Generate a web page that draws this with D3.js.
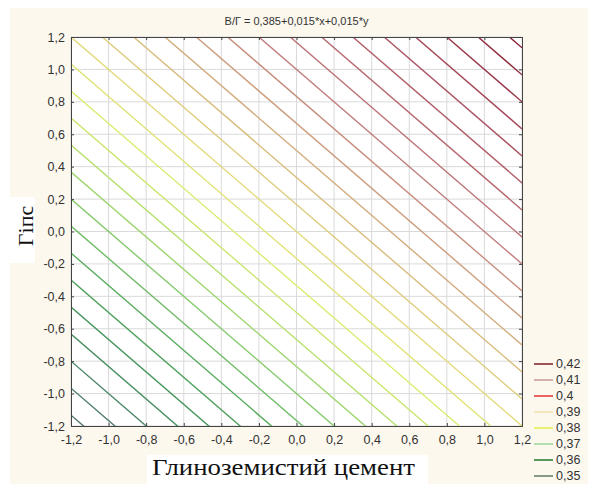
<!DOCTYPE html>
<html>
<head>
<meta charset="utf-8">
<script src="https://cdn.jsdelivr.net/npm/d3@7"></script>
<style>
  body { margin: 0; background: #fff; }
  svg { display: block; }
</style>
</head>
<body>
<div id="chart"></div>
<script>
// fitted surface from the title: z = b0 + b1*x + b2*y
const coefs = [0.385, 0.015, 0.015];
const titleText = "В/Г = 0,385+0,015*x+0,015*y";
const xLabel = "Глиноземистий цемент";
const yLabel = "Гіпс";

const tickValues = [-1.2, -1.0, -0.8, -0.6, -0.4, -0.2, 0.0, 0.2, 0.4, 0.6, 0.8, 1.0, 1.2];

// contour levels drawn in the plot
const levels = [0.35, 0.3525, 0.355, 0.3575, 0.36, 0.3625, 0.365, 0.3675, 0.37, 0.3725,
  0.375, 0.3775, 0.38, 0.3825, 0.385, 0.3875, 0.39, 0.3925, 0.395, 0.3975,
  0.4, 0.4025, 0.405, 0.4075, 0.41, 0.4125, 0.415, 0.4175, 0.42];

// colour anchors for the lines
const colorStops = [0.35, 0.355, 0.36, 0.365, 0.37, 0.375, 0.38, 0.385, 0.39, 0.395, 0.4, 0.41, 0.42];
const colorRange = ["#56726c", "#4a8666", "#45955c", "#58ac5e", "#84ca6c", "#b6e06c", "#dcec74",
  "#e4da7c", "#d8bc7c", "#cc9c7c", "#c07c7c", "#ac5464", "#861c30"];

// legend
const legendLabels = ["0,42", "0,41", "0,4", "0,39", "0,38", "0,37", "0,36", "0,35"];
const legendColors = ["#7a1f2a", "#c89898", "#e03030", "#f0e0a8", "#e4f048", "#98d898", "#207a28", "#607a68"];

const width = 596, height = 484;
const margin = { top: 37, right: 74, bottom: 58, left: 71 };

const svg = d3.select("#chart").append("svg")
  .attr("width", width)
  .attr("height", height);

// backgrounds
svg.append("rect").attr("x", 10).attr("y", 8).attr("width", 578).attr("height", 476).attr("fill", "#fcf8ee");
svg.append("rect").attr("x", 147).attr("y", 455).attr("width", 281).attr("height", 29).attr("fill", "#fff");
svg.append("rect").attr("x", 0).attr("y", 197).attr("width", 35).attr("height", 66).attr("fill", "#fff");

const x = d3.scaleLinear().domain([-1.2, 1.2]).range([margin.left, width - margin.right]);
const y = d3.scaleLinear().domain([-1.2, 1.2]).range([height - margin.bottom, margin.top]);
const color = d3.scaleLinear().domain(colorStops).range(colorRange);

const fmt = d => d3.format(".1f")(Math.abs(d) < 1e-9 ? 0 : d).replace(".", ",").replace("−", "-");

svg.append("rect")
  .attr("x", x(-1.2)).attr("y", y(1.2))
  .attr("width", x(1.2) - x(-1.2)).attr("height", y(-1.2) - y(1.2))
  .attr("fill", "#fff");

// grid
svg.append("g")
  .selectAll("line.gx")
  .data(tickValues)
  .join("line")
  .attr("x1", d => x(d)).attr("x2", d => x(d))
  .attr("y1", y(1.2)).attr("y2", y(-1.2))
  .attr("stroke", "#dadada").attr("stroke-width", 1);
svg.append("g")
  .selectAll("line.gy")
  .data(tickValues)
  .join("line")
  .attr("y1", d => y(d)).attr("y2", d => y(d))
  .attr("x1", x(-1.2)).attr("x2", x(1.2))
  .attr("stroke", "#dadada").attr("stroke-width", 1);

// contour lines
svg.append("clipPath").attr("id", "plot-clip")
  .append("rect")
  .attr("x", x(-1.2)).attr("y", y(1.2))
  .attr("width", x(1.2) - x(-1.2)).attr("height", y(-1.2) - y(1.2));

const line = d3.line().x(d => x(d[0])).y(d => y(d[1]));
const levelLine = lev => [-1.2, 1.2].map(xv => [xv, (lev - coefs[0] - coefs[1] * xv) / coefs[2]]);

svg.append("g")
  .attr("clip-path", "url(#plot-clip)")
  .selectAll("path")
  .data(levels)
  .join("path")
  .attr("d", d => line(levelLine(d)))
  .attr("fill", "none")
  .attr("stroke", d => color(d))
  .attr("stroke-width", 1.4);

// axes
const tickFont = g => g.selectAll(".tick text")
  .attr("font-family", "Liberation Sans, Arial, sans-serif")
  .attr("font-size", 12.5)
  .attr("fill", "#333");

svg.append("g")
  .attr("transform", `translate(0,${y(-1.2)})`)
  .call(d3.axisBottom(x).tickValues(tickValues).tickFormat(fmt).tickSize(-3).tickPadding(9))
  .call(g => g.select(".domain").attr("stroke", "#444"))
  .call(g => g.selectAll(".tick line").attr("stroke", "#444"))
  .call(tickFont);

svg.append("g")
  .attr("transform", `translate(${x(-1.2)},0)`)
  .call(d3.axisLeft(y).tickValues(tickValues).tickFormat(fmt).tickSize(-3).tickPadding(6))
  .call(g => g.select(".domain").attr("stroke", "#444"))
  .call(g => g.selectAll(".tick line").attr("stroke", "#444"))
  .call(tickFont);

svg.append("g")
  .attr("transform", `translate(0,${y(1.2)})`)
  .call(d3.axisTop(x).tickValues(tickValues).tickFormat("").tickSize(-3))
  .call(g => g.select(".domain").attr("stroke", "#444"))
  .call(g => g.selectAll(".tick line").attr("stroke", "#444"));

svg.append("g")
  .attr("transform", `translate(${x(1.2)},0)`)
  .call(d3.axisRight(y).tickValues(tickValues).tickFormat("").tickSize(-3))
  .call(g => g.select(".domain").attr("stroke", "#444"))
  .call(g => g.selectAll(".tick line").attr("stroke", "#444"));

// title
svg.append("text")
  .attr("x", (x(-1.2) + x(1.2)) / 2)
  .attr("y", 25)
  .attr("text-anchor", "middle")
  .attr("font-family", "Liberation Sans, Arial, sans-serif")
  .attr("font-size", 11)
  .attr("fill", "#333")
  .text(titleText);

// axis titles
svg.append("text")
  .attr("x", 152)
  .attr("y", 475)
  .attr("font-family", "Liberation Serif, Times New Roman, serif")
  .attr("font-size", 23)
  .attr("textLength", 263)
  .attr("lengthAdjust", "spacingAndGlyphs")
  .attr("fill", "#111")
  .text(xLabel);

svg.append("text")
  .attr("transform", "translate(33,226) rotate(-90)")
  .attr("text-anchor", "middle")
  .attr("font-family", "Liberation Serif, Times New Roman, serif")
  .attr("font-size", 22)
  .attr("fill", "#111")
  .text(yLabel);

// legend
const legend = svg.append("g")
  .selectAll("g")
  .data(legendLabels)
  .join("g")
  .attr("transform", (d, i) => `translate(534,${364 + i * 16})`);

legend.append("line")
  .attr("x1", 0).attr("x2", 19)
  .attr("stroke", (d, i) => legendColors[i])
  .attr("stroke-width", 1.5);

legend.append("text")
  .attr("x", 22)
  .attr("dy", "0.35em")
  .attr("font-family", "Liberation Sans, Arial, sans-serif")
  .attr("font-size", 12.5)
  .attr("fill", "#333")
  .text(d => d);
</script>
</body>
</html>
